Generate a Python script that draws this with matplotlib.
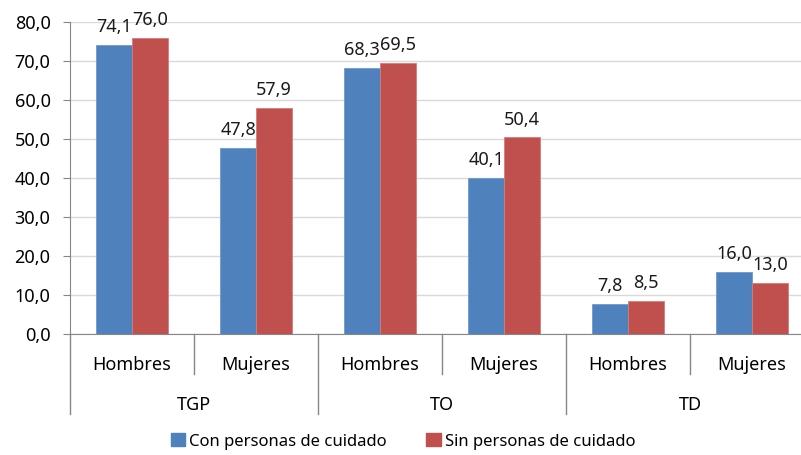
import numpy as np
import matplotlib.pyplot as plt
from matplotlib.patches import Patch

plt.rcParams['font.family'] = ['Noto Sans', 'DejaVu Sans']

# data
groups = ['TGP', 'TO', 'TD']
sexes = ['Hombres', 'Mujeres']
con_cuidado = [74.1, 47.8, 68.3, 40.1, 7.8, 16.0]
sin_cuidado = [76.0, 57.9, 69.5, 50.4, 8.5, 13.0]
series_names = ['Con personas de cuidado', 'Sin personas de cuidado']

blue = '#4F81BD'
red = '#C0504D'

fig = plt.figure(figsize=(8.01, 4.55), dpi=100)
# plot area runs slightly past the right edge of the image, like the original
ax = fig.add_axes([70 / 801, 1 - 334 / 455, 744 / 801, 312 / 455])

x = np.arange(len(con_cuidado))
w = 0.287
b1 = ax.bar(x - w / 2, con_cuidado, w, color=blue, edgecolor='#6F9AD0', linewidth=0.6, zorder=3)
b2 = ax.bar(x + w / 2, sin_cuidado, w, color=red, edgecolor='#D47C7A', linewidth=0.6, zorder=3)

def fmt(v):
    return ('%.1f' % v).replace('.', ',')

for bars, vals in ((b1, con_cuidado), (b2, sin_cuidado)):
    for rect, v in zip(bars, vals):
        ax.text(rect.get_x() + rect.get_width() / 2, v + 3.3, fmt(v),
                ha='center', va='baseline', fontsize=13, color='#1a1a1a')

ax.set_xlim(-0.5, len(x) - 0.5)
ax.set_ylim(0, 80)
ax.set_yticks(np.arange(0, 81, 10))
ax.set_yticklabels([fmt(t) for t in np.arange(0, 81, 10)], fontsize=13)
ax.yaxis.grid(True, color='#D9D9D9', linewidth=1, zorder=0)
ax.set_axisbelow(True)
ax.tick_params(axis='y', length=5, color='#868686', pad=9)
ax.set_xticks([])

for s in ['top', 'right']:
    ax.spines[s].set_visible(False)
ax.spines['left'].set_color('#868686')
ax.spines['bottom'].set_color('#868686')

trans = ax.get_xaxis_transform()
# two-level category axis
for i in range(len(x)):
    ax.text(i, -0.1154, sexes[i % 2], transform=trans, ha='center', va='baseline', fontsize=13)
for g, name in enumerate(groups):
    ax.text(2 * g + 0.5, -0.2436, name, transform=trans, ha='center', va='baseline', fontsize=13)

for i in range(len(x) + 1):
    xpos = i - 0.5
    bottom = -0.256 if i % 2 == 0 else -0.128
    ax.plot([xpos, xpos], [0, bottom], transform=trans, color='#868686',
            linewidth=1, clip_on=False)

handles = [Patch(color=blue), Patch(color=red)]
fig.legend(handles, series_names, loc='center', bbox_to_anchor=(0.503, 0.03),
           ncol=2, frameon=False, fontsize=12, handlelength=0.85, handleheight=0.85,
           handletextpad=0.25, columnspacing=2.4)

fig.savefig('out.png', dpi=100)
